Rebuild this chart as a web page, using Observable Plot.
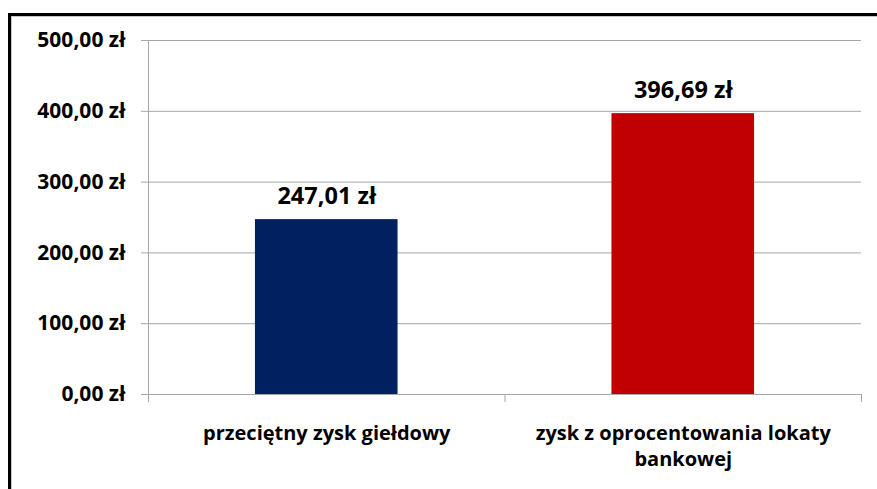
<!DOCTYPE html>
<html>
<head>
<meta charset="utf-8">
<script src="https://cdn.jsdelivr.net/npm/d3@7"></script>
<script src="https://cdn.jsdelivr.net/npm/@observablehq/plot@0.6"></script>
<style>
  html, body { margin: 0; padding: 0; background: #fff; }
  #wrap { position: relative; width: 877px; height: 489px; overflow: hidden; background: #fff; }
  #box { position: absolute; left: 8px; top: 13px; width: 900px; height: 520px;
         border: 3px solid #000; box-sizing: border-box; }
  #inner { position: absolute; left: 11px; top: 16px; width: 900px; height: 520px;
           border-left: 1px solid #c8c8c8; border-top: 1px solid #c8c8c8; box-sizing: border-box; }
  #chart { position: absolute; left: 0; top: 0; }
  svg { font-family: "Open Sans", sans-serif; }
</style>
</head>
<body>
<div id="wrap">
  <div id="box"></div>
  <div id="inner"></div>
  <div id="chart"></div>
</div>
<script>
const categories = ["przeciętny zysk giełdowy", "zysk z oprocentowania lokaty\nbankowej"];
const values = [247.01, 396.69];
const colors = ["#002060", "#C00000"];
const yTicks = [0, 100, 200, 300, 400, 500];

const fmt = v => v.toFixed(2).replace(".", ",") + " zł";
const data = categories.map((c, i) => ({i, c, v: values[i], color: colors[i]}));

const chart = Plot.plot({
  width: 877,
  height: 489,
  marginLeft: 148,
  marginRight: 16,
  marginTop: 40,
  marginBottom: 95,
  style: {background: "transparent", fontFamily: "'Open Sans', sans-serif", overflow: "visible"},
  x: {domain: [0, categories.length], axis: null},
  y: {domain: [0, 500], axis: null},
  marks: [
    Plot.gridY(yTicks, {stroke: "#a6a6a6", strokeOpacity: 1, strokeWidth: 1}),
    Plot.rectY(data, {x1: d => d.i + 0.3, x2: d => d.i + 0.7, y: "v", fill: "color"}),
    Plot.frame({anchor: "left", stroke: "#a6a6a6", strokeWidth: 1}),
    Plot.frame({anchor: "bottom", stroke: "#a6a6a6", strokeWidth: 1}),
    Plot.axisY({ticks: yTicks, tickSize: 7, tickPadding: 16, stroke: "#a6a6a6", strokeOpacity: 1,
      label: null, tickFormat: fmt, fontSize: 21, fontWeight: "bold", fill: "#000"}),
    Plot.axisX({ticks: d3.range(categories.length + 1), tickSize: 8, stroke: "#a6a6a6", strokeOpacity: 1,
      label: null, tickFormat: () => ""}),
    Plot.text(data, {x: d => d.i + 0.5, y: 0, text: "c", dy: 27, lineAnchor: "top", lineHeight: 1.3,
      fontSize: 20, fontWeight: "bold", fill: "#000"}),
    Plot.text(data, {x: d => d.i + 0.5, y: "v", text: d => fmt(d.v), dy: -23,
      fontSize: 23.5, fontWeight: "bold", fill: "#000"})
  ]
});
document.getElementById("chart").appendChild(chart);
</script>
</body>
</html>
